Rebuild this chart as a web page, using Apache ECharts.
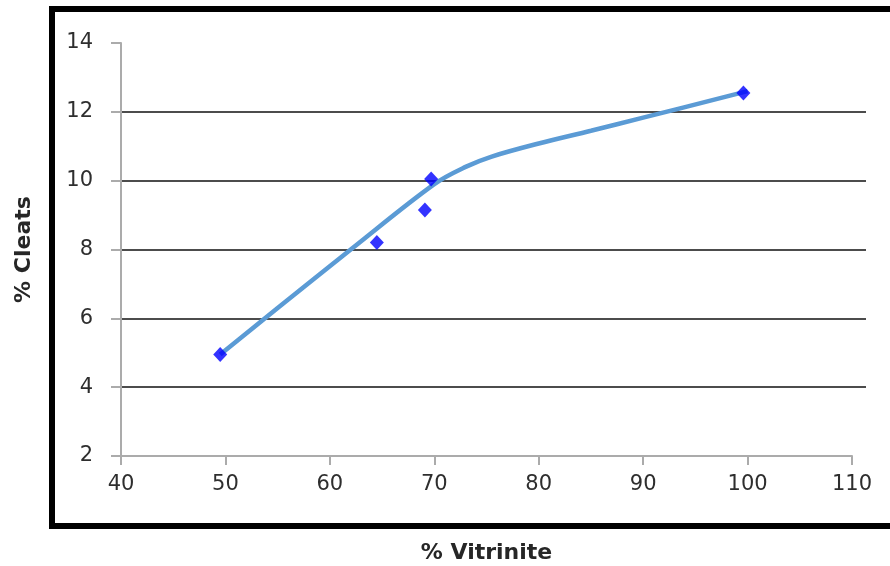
<!DOCTYPE html>
<html>
<head>
<meta charset="utf-8">
<script src="https://cdn.jsdelivr.net/npm/echarts@6/dist/echarts.min.js"></script>
<style>
html,body{margin:0;padding:0;background:#fff;}
#c{width:890px;height:566px;}
</style>
</head>
<body>
<div id="c"></div>
<script>
// Data
const vitrinite = [49.5, 64.5, 69.1, 69.7, 99.6];
const cleats = [4.95, 8.2, 9.15, 10.05, 12.55];
const trendX = [49.5, 55, 62, 70, 73, 75.5, 80, 85, 90, 100];
const trendY = [4.95, 6.3, 8.0, 9.9, 10.4, 10.7, 11.08, 11.45, 11.83, 12.6];
const xTicks = [40, 50, 60, 70, 80, 90, 100, 110];
const yTicks = [2, 4, 6, 8, 10, 12, 14];
const xTitle = '% Vitrinite';
const yTitle = '% Cleats';

const chart = echarts.init(document.getElementById('c'), null, {renderer: 'canvas'});
const font = 'DejaVu Sans';
const axisGray = '#ababab';
const lblColor = '#2e2e2e';

const option = {
  animation: false,
  backgroundColor: '#fff',
  grid: [
    {left: 121, top: 43, width: 731, height: 413, outerBoundsMode: 'none', containLabel: false},
    {left: 121, top: 43, width: 745, height: 413, outerBoundsMode: 'none', containLabel: false}
  ],
  xAxis: [
    {
      type: 'value', gridIndex: 0,
      min: xTicks[0], max: xTicks[xTicks.length - 1], interval: 10,
      axisLine: {show: true, lineStyle: {color: axisGray, width: 2}},
      axisTick: {show: true, length: 9, lineStyle: {color: axisGray, width: 2}},
      axisLabel: {show: true, margin: 18, color: lblColor, fontFamily: font, fontSize: 21},
      splitLine: {show: false},
      name: xTitle, nameLocation: 'middle', nameGap: 86,
      nameTextStyle: {fontFamily: font, fontWeight: 'bold', fontSize: 22, color: '#262626'}
    },
    {
      type: 'value', gridIndex: 1, show: false,
      min: xTicks[0], max: xTicks[xTicks.length - 1]
    }
  ],
  yAxis: [
    {
      type: 'value', gridIndex: 0,
      min: yTicks[0], max: yTicks[yTicks.length - 1], interval: 2,
      axisLine: {show: true, lineStyle: {color: axisGray, width: 2}},
      axisTick: {show: true, length: 10, lineStyle: {color: axisGray, width: 2}},
      axisLabel: {show: true, margin: 28, color: lblColor, fontFamily: font, fontSize: 21},
      splitLine: {show: false},
      name: yTitle, nameLocation: 'middle', nameGap: 86, nameRotate: 90,
      nameTextStyle: {fontFamily: font, fontWeight: 'bold', fontSize: 22, color: '#262626'}
    },
    {
      type: 'value', gridIndex: 1,
      min: yTicks[0], max: yTicks[yTicks.length - 1], interval: 2,
      axisLine: {show: false}, axisTick: {show: false}, axisLabel: {show: false},
      splitLine: {show: true, showMinLine: false, showMaxLine: false, lineStyle: {color: '#111', width: 1.5}}
    }
  ],
  series: [
    {
      type: 'line', xAxisIndex: 0, yAxisIndex: 0,
      data: trendX.map((x, i) => [x, trendY[i]]),
      smooth: 0.35, showSymbol: false, symbol: 'none',
      lineStyle: {color: '#5b9bd5', width: 4.5},
      z: 3
    },
    {
      type: 'scatter', xAxisIndex: 0, yAxisIndex: 0,
      data: vitrinite.map((x, i) => [x, cleats[i]]),
      symbol: 'diamond', symbolSize: [14, 15],
      itemStyle: {color: '#0000ff'},
      z: 4
    }
  ],
  graphic: [
    {
      type: 'rect', silent: true, z: 10,
      shape: {x: 52, y: 9, width: 900, height: 517},
      style: {fill: 'none', stroke: '#000', lineWidth: 6}
    }
  ]
};
chart.setOption(option);
</script>
</body>
</html>
